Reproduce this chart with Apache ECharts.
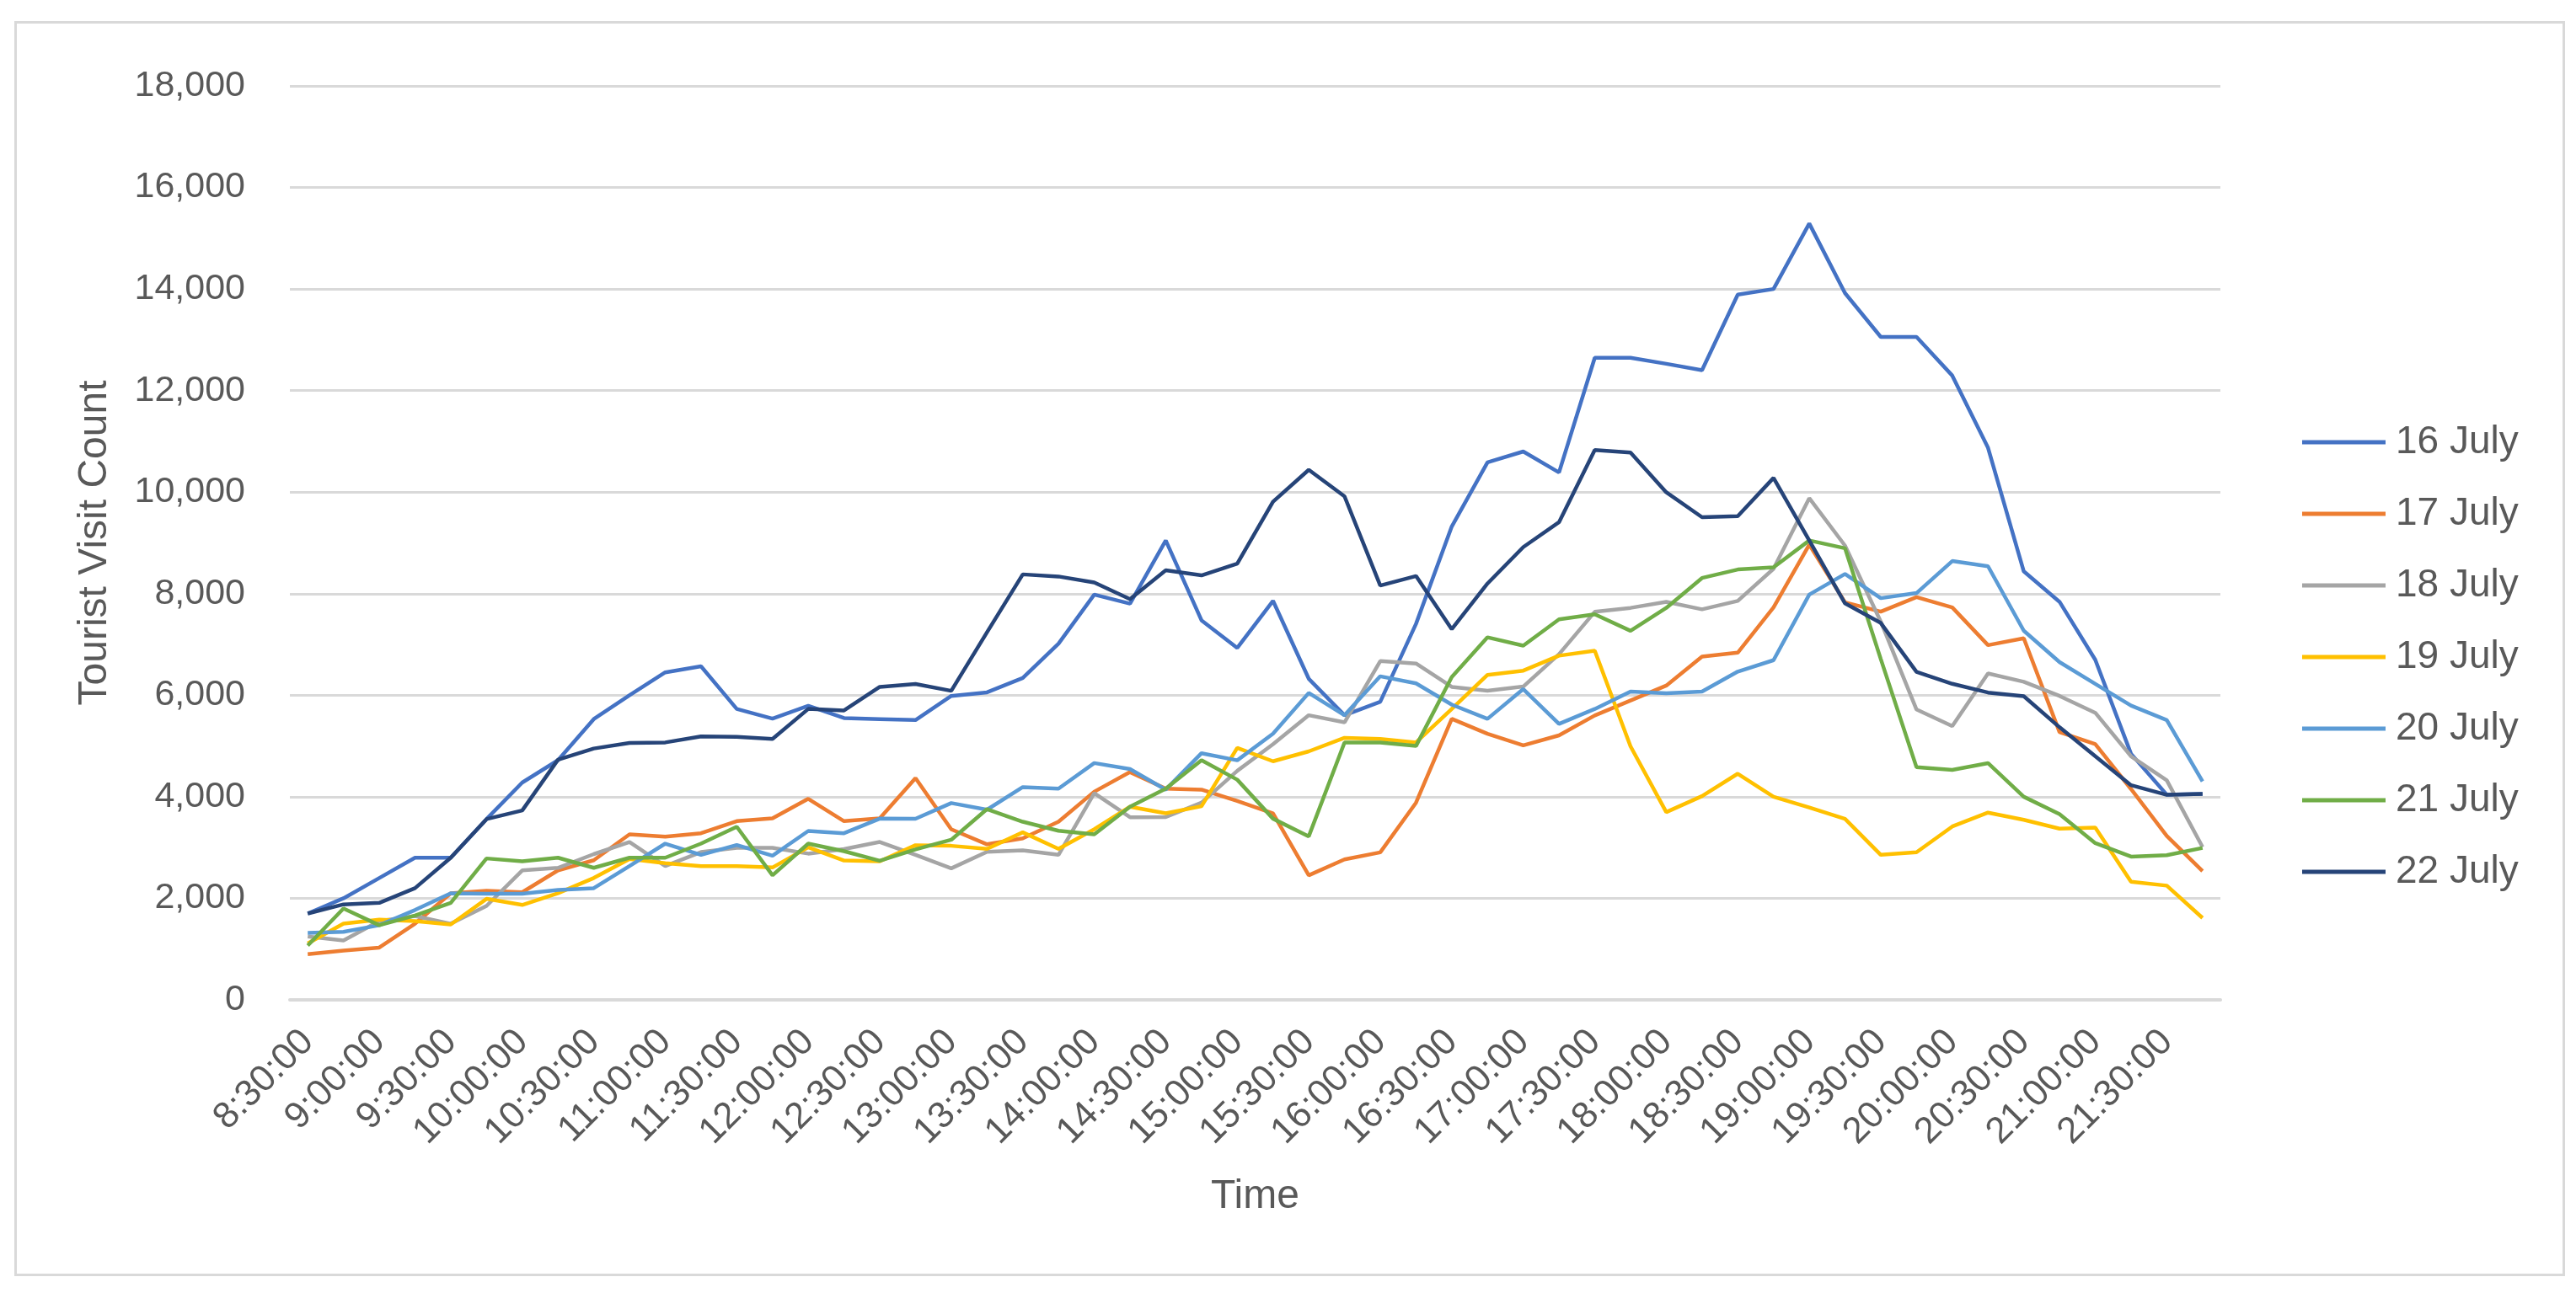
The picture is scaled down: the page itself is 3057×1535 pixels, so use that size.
<!DOCTYPE html>
<html>
<head>
<meta charset="utf-8">
<script src="https://cdn.jsdelivr.net/npm/echarts@6/dist/echarts.min.js"></script>
<style>
html,body{margin:0;padding:0;background:#fff;}
#chart{width:3057px;height:1535px;}
</style>
</head>
<body>
<div id="chart"></div>
<script>
const times = ["8:30:00","8:45:00","9:00:00","9:15:00","9:30:00","9:45:00","10:00:00","10:15:00","10:30:00","10:45:00",
"11:00:00","11:15:00","11:30:00","11:45:00","12:00:00","12:15:00","12:30:00","12:45:00","13:00:00","13:15:00",
"13:30:00","13:45:00","14:00:00","14:15:00","14:30:00","14:45:00","15:00:00","15:15:00","15:30:00","15:45:00",
"16:00:00","16:15:00","16:30:00","16:45:00","17:00:00","17:15:00","17:30:00","17:45:00","18:00:00","18:15:00",
"18:30:00","18:45:00","19:00:00","19:15:00","19:30:00","19:45:00","20:00:00","20:15:00","20:30:00","20:45:00",
"21:00:00","21:15:00","21:30:00","21:45:00"];

const july16 = [1700,2000,2400,2800,2800,3560,4280,4720,5530,6000,6450,6570,5730,5540,5790,5550,5530,5510,5985,6056,
6340,7016,7982,7804,9049,7475,6931,7859,6324,5606,5871,7405,9323,10585,10800,10388,12645,12645,12527,12400,
13891,14000,15290,13919,13057,13057,12295,10874,8440,7840,6699,4846,4038,4057];
const july17 = [900,970,1030,1500,2100,2150,2120,2550,2750,3260,3215,3282,3520,3575,3960,3520,3575,4367,3360,3064,
3182,3508,4100,4486,4160,4140,3918,3674,2453,2767,2906,3883,5536,5240,5012,5209,5601,5896,6190,6759,
6838,7730,8966,7829,7646,7931,7728,6987,7120,5274,5036,4152,3230,2536];
const july18 = [1250,1170,1550,1650,1500,1850,2550,2600,2870,3110,2635,2910,2995,2995,2880,2970,3110,2856,2590,2915,
2945,2856,4071,3597,3600,3883,4510,5034,5606,5466,6673,6624,6164,6090,6170,6808,7642,7720,7838,7691,
7858,8490,9880,8946,7450,5718,5393,6429,6265,5986,5654,4798,4323,3011];
const july19 = [1110,1500,1580,1550,1485,1990,1870,2100,2400,2773,2690,2635,2635,2607,3005,2745,2730,3046,3034,2975,
3300,2975,3360,3804,3674,3813,4963,4699,4894,5160,5138,5069,5731,6400,6484,6779,6877,4993,3698,4012,
4454,4000,3790,3566,2856,2907,3414,3688,3546,3372,3391,2327,2250,1614];
const july20 = [1320,1340,1470,1770,2100,2090,2090,2165,2200,2635,3077,2856,3050,2840,3326,3282,3570,3567,3876,3745,
4190,4160,4664,4545,4140,4858,4718,5243,6045,5606,6373,6234,5815,5535,6121,5435,5729,6072,6040,6072,
6465,6690,7982,8388,7911,8012,8642,8540,7270,6652,6224,5796,5511,4304];
const july21 = [1070,1800,1470,1660,1910,2785,2730,2800,2600,2800,2800,3077,3409,2453,3077,2928,2740,2963,3153,3757,
3508,3330,3259,3804,4160,4720,4336,3569,3220,5069,5069,5000,6359,7140,6975,7495,7593,7269,7720,8309,
8476,8520,9047,8895,6713,4581,4530,4662,4000,3658,3087,2821,2850,2992];
const july22 = [1700,1880,1910,2200,2800,3560,3730,4730,4950,5060,5070,5190,5180,5140,5730,5700,6165,6220,6086,7240,
8380,8338,8219,7893,8460,8361,8591,9812,10440,9916,8159,8347,7300,8200,8917,9408,10830,10781,9996,9506,
9526,10280,9047,7809,7423,6459,6225,6053,5980,5369,4798,4228,4038,4057];

const seriesNames = ["16 July","17 July","18 July","19 July","20 July","21 July","22 July"];
const seriesData = [july16, july17, july18, july19, july20, july21, july22];
const colors = ["#4472C4","#ED7D31","#A5A5A5","#FFC000","#5B9BD5","#70AD47","#264478"];

const yTicks = {min: 0, max: 18000, interval: 2000};

const FONT = "'Liberation Sans', Arial, sans-serif";
const TXT = "#595959";

const chart = echarts.init(document.getElementById('chart'), null, {renderer: 'canvas'});
chart.setOption({
  animation: false,
  backgroundColor: '#fff',
  color: colors,
  graphic: [{
    type: 'rect', left: 16, top: 24, z: -1,
    shape: {width: 3024, height: 1487},
    style: {fill: 'none', stroke: '#D9D9D9', lineWidth: 3}
  }],
  grid: {left: 344, right: 422, top: 102, bottom: 348, containLabel: false},
  legend: {
    orient: 'vertical', left: 2727, top: 495,
    itemWidth: 99, itemHeight: 5, itemGap: 35, icon: 'rect',
    textStyle: {fontFamily: FONT, fontSize: 46, color: TXT, lineHeight: 50, padding: [0, 0, 0, 7]},
    data: seriesNames
  },
  xAxis: {
    type: 'category', data: times, boundaryGap: true,
    name: 'Time', nameLocation: 'middle', nameGap: 210,
    nameTextStyle: {fontFamily: FONT, fontSize: 48, color: TXT},
    axisLine: {lineStyle: {color: '#D9D9D9', width: 4}},
    axisTick: {show: false},
    axisLabel: {interval: 1, rotate: 45, margin: 43, fontFamily: FONT, fontSize: 44, color: TXT}
  },
  yAxis: {
    type: 'value', min: yTicks.min, max: yTicks.max, interval: yTicks.interval,
    name: 'Tourist Visit Count', nameLocation: 'middle', nameGap: 207,
    nameTextStyle: {fontFamily: FONT, fontSize: 48, color: TXT},
    axisLine: {show: false}, axisTick: {show: false},
    splitLine: {lineStyle: {color: '#D9D9D9', width: 3}},
    axisLabel: {margin: 53, fontFamily: FONT, fontSize: 43, color: TXT,
      formatter: v => v.toLocaleString('en-US')}
  },
  series: seriesNames.map((n, i) => ({
    name: n, type: 'line', data: seriesData[i], symbol: 'none',
    lineStyle: {width: 4.5, color: colors[i]}, itemStyle: {color: colors[i]}
  }))
});
</script>
</body>
</html>
